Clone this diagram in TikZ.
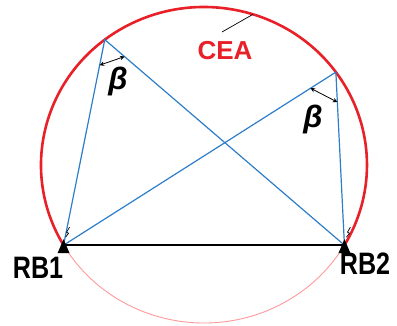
\documentclass[tikz,border=0pt]{standalone}
\usepackage{fontspec}
\setmainfont{Liberation Sans}
\usetikzlibrary{calc,arrows.meta}
\definecolor{ceared}{RGB}{232, 32, 40}
\definecolor{rayblue}{RGB}{45, 125, 200}

\begin{document}
\begin{tikzpicture}[x=1pt, y=1pt,
    ray/.style={color=rayblue, line width=1.2pt},
    anglemark/.style={{Stealth[length=4.5pt, width=4.5pt]}-{Stealth[length=4.5pt, width=4.5pt]}, line width=0.8pt},
    station/.style={font=\fontsize{31}{31}\selectfont\bfseries, inner sep=0pt, xscale=0.81, transform shape},
    betalabel/.style={font=\fontsize{31}{31}\selectfont\bfseries\itshape, inner sep=0pt}]
    \useasboundingbox (0, 0) rectangle (397, 325);

    % Ellipse centre and points on it
    \coordinate (c) at (204, 160);
    \coordinate (rb1) at ($(c) + (210.5:163 and 158)$);
    \coordinate (rb2) at ($(c) + (-30.5:163 and 158)$);
    \coordinate (p1) at ($(c) + (127.5:163 and 158)$);
    \coordinate (p2) at ($(c) + (36:163 and 158)$);
    \coordinate (ceatip) at ($(c) + (72.5:163 and 158)$);
    \coordinate (ceafoot) at (222, 293);

    % Lower and upper arcs
    \draw[color=red!40, line width=0.9pt] (rb1) arc[start angle=210.5, end angle=329.5, x radius=163, y radius=158];
    \draw[color=ceared, line width=2.6pt] (rb1) arc[start angle=210.5, end angle=-30.5, x radius=163, y radius=158];

    % Rays from both stations
    \draw[ray] (rb1) -- (p1) -- (rb2);
    \draw[ray] (rb1) -- (p2) -- (rb2);

    % Baseline
    \draw[line width=1.8pt] (rb1) -- (rb2);

    % Station markers
    \fill (rb1) ++(0, 6) -- ++(-6, -14) -- ++(12, 0) -- cycle;
    \fill (rb2) ++(0, 6) -- ++(-6, -14) -- ++(12, 0) -- cycle;
    \draw[line width=0.7pt] ($(rb1) + (2, 8)$) -- ++(3, 4) -- ++(-2, 1) -- ++(3, 5);
    \draw[line width=0.7pt] ($(rb2) + (2, 8)$) -- ++(3, 4) -- ++(-2, 1) -- ++(3, 5);

    % Angle marks
    \draw[anglemark] ($(p1)!26pt!(rb1)$) -- ($(p1)!26pt!(rb2)$);
    \draw[anglemark] ($(p2)!30pt!(rb1)$) -- ($(p2)!30pt!(rb2)$);
    \node[betalabel] (beta1) at (118, 244) {β};
    \node[betalabel] (beta2) at (313, 206) {β};

    % Labels
    \node[station] (rb1lbl) at (38, 57) {RB1};
    \node[station] (rb2lbl) at (365, 61) {RB2};
    \node[font=\fontsize{26}{26}\selectfont\bfseries, text=ceared, inner sep=0pt] (cea) at (225, 274) {CEA};
    \draw[line width=0.7pt] (ceafoot) -- (ceatip);
\end{tikzpicture}
\end{document}
